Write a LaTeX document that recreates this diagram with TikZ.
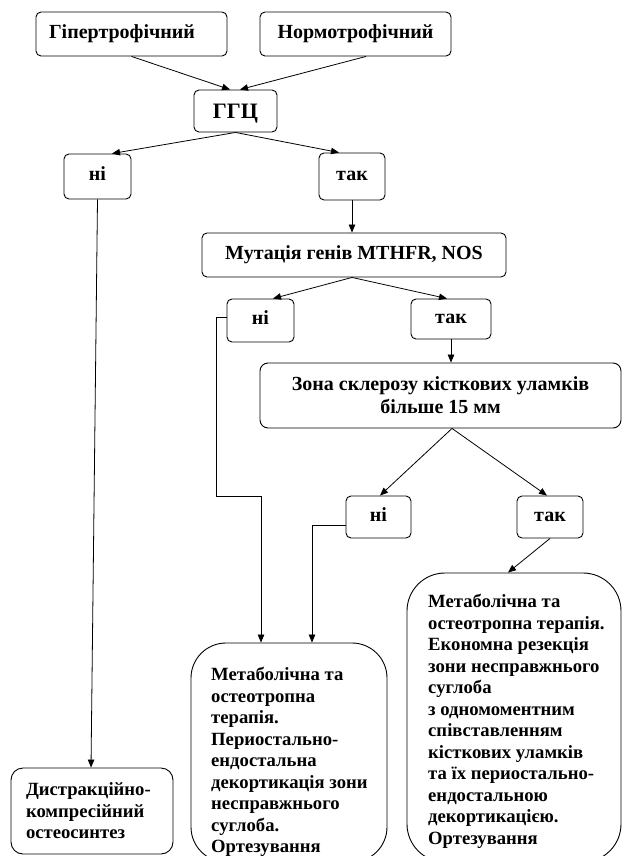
\documentclass[tikz,border=0pt]{standalone}
\usepackage{fontspec}
\setmainfont{Liberation Serif}
\usetikzlibrary{arrows.meta}
\newcommand\myfs{\fontsize{18.67}{21.5}\selectfont\bfseries}
\newcommand\myhf{\fontsize{20}{23}\selectfont\bfseries}
\begin{document}
\begin{tikzpicture}[x=1pt,y=-1pt,
  box/.style={draw, line width=0.9pt, rounded corners=5pt, inner sep=0pt, font=\myhf, align=center},
  one/.style={text height=13pt, text depth=4.4pt},
  arr/.style={line width=0.8pt, -{Triangle[length=8pt,width=6.5pt]}},
  txt/.style={anchor=north west, inner sep=0pt, align=left, font=\myfs}]
\clip (0,0) rectangle (622,856);
% boxes
\node[box, one, text width=165pt, align=left, inner xsep=13pt, minimum height=44pt] (hyp) at (131.5,34) {Гіпертрофічний};
\node[box, one, minimum width=191pt, minimum height=44pt] (norm) at (355.5,34) {Нормотрофічний};
\node[box, font=\fontsize{22}{25}\selectfont\bfseries, text height=15pt, text depth=0pt, minimum width=83pt, minimum height=42pt] (ggc) at (235.5,111) {ГГЦ};
\node[box, one, minimum width=67pt, minimum height=45pt] (ni1) at (97.5,176.5) {ні};
\node[box, one, minimum width=66pt, minimum height=47pt] (tak1) at (352,176.5) {так};
\node[box, one, minimum width=304pt, minimum height=44pt] (mut) at (354,255) {Мутація генів MTHFR, NOS};
\node[box, one, minimum width=67pt, minimum height=43pt] (ni2) at (260.5,320.5) {ні};
\node[box, one, minimum width=80pt, minimum height=40pt] (tak2) at (451,319) {так};
\node[box, rounded corners=8pt, minimum width=361pt, minimum height=65pt] (zona) at (440.5,395.5) {Зона склерозу кісткових уламків\\більше 15 мм};
\node[box, one, minimum width=65pt, minimum height=42pt] (ni3) at (378.5,517) {ні};
\node[box, one, minimum width=66pt, minimum height=42pt] (tak3) at (550,517) {так};
\node[box, font=\myfs, rounded corners=12pt, text width=132pt, align=left, inner xsep=15pt, minimum height=86pt] (lbox) at (92,811) {Дистракційно-\\компресійний\\остеосинтез};
\node[box, rounded corners=35pt, minimum width=196pt, minimum height=219pt] (mbox) at (289,752.5) {};
\node[box, rounded corners=38pt, minimum width=214pt, minimum height=289pt] (rbox) at (514,717.5) {};
\node[txt] (mtxt) at (211,667) {Метаболічна та\\остеотропна\\терапія.\\Периостально-\\ендостальна\\декортикація зони\\несправжнього\\суглоба.\\Ортезування};
\node[txt] (rtxt) at (428,594) {Метаболічна та\\остеотропна терапія.\\Економна резекція\\зони несправжнього\\суглоба\\з одномоментним\\співставленням\\кісткових уламків\\та їх периостально-\\ендостальною\\декортикацією.\\Ортезування};
% connectors
\draw[arr] (hyp.south) -- ([xshift=-5.5pt]ggc.north);
\draw[arr] ([xshift=10.5pt]norm.south) -- ([xshift=4.5pt]ggc.north);
\draw[arr] (ggc.south) -- ([xshift=14.5pt]ni1.north);
\draw[arr] (ggc.south) -- ([xshift=-13pt]tak1.north);
\draw[arr] (ni1.south) -- ([xshift=-1pt]lbox.north);
\draw[arr] (tak1.south) -- (tak1.south |- mut.north);
\draw[arr] ([xshift=-2pt]mut.south) -- ([xshift=12.5pt]ni2.north);
\draw[arr] ([xshift=-2pt]mut.south) -- ([xshift=-4pt]tak2.north);
\draw[arr] (tak2.south) -- (tak2.south |- zona.north);
\draw[arr] ([xshift=11.5pt]zona.south) -- ([xshift=1.5pt]ni3.north);
\draw[arr] ([xshift=11.5pt]zona.south) -- ([xshift=-3pt]tak3.north);
\coordinate (c1) at (216,496);
\draw[arr] ([yshift=3.5pt]ni2.west) -| (c1) -| ([xshift=-28pt]mbox.north);
\draw[arr] ([yshift=-8pt]ni3.west) -| ([xshift=23pt]mbox.north);
\draw[arr] (tak3.south) -- ([xshift=-6pt]rbox.north);
\end{tikzpicture}
\end{document}
